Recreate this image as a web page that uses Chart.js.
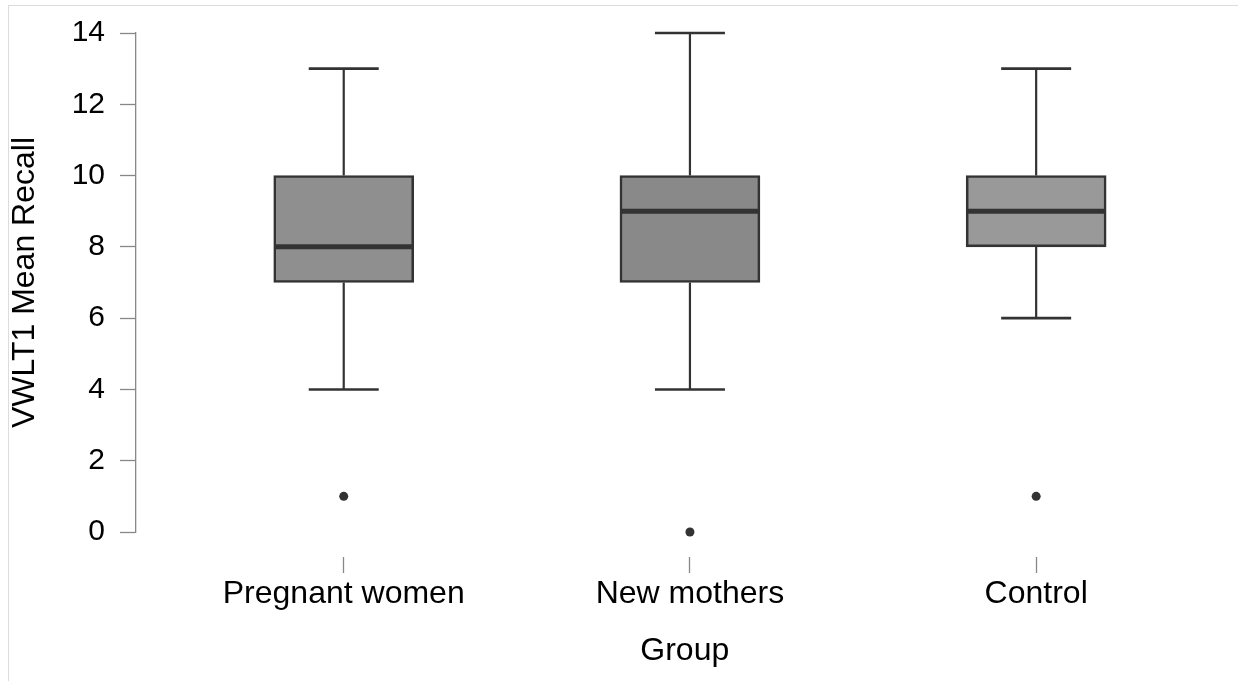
<!DOCTYPE html>
<html>
<head>
<meta charset="utf-8">
<script src="https://cdn.jsdelivr.net/npm/chart.js@4.4.1/dist/chart.umd.min.js"></script>
<style>
    body { margin: 0; background: #fff; }
    #wrap { position: relative; width: 1238px; height: 681px; }
    #frame { position: absolute; left: 8px; top: 5px; width: 1240px; height: 700px; border-top: 1px solid #dcdcdc; border-left: 1px solid #dcdcdc; }
</style>
</head>
<body>
<div id="wrap">
    <div id="frame"></div>
    <canvas id="boxChart" width="1238" height="681"></canvas>
</div>
<script>
// values
var groups = ['Pregnant women', 'New mothers', 'Control'];
var whiskerLow = [4, 4, 6];
var q1 = [7, 7, 8];
var medians = [8, 9, 9];
var q3 = [10, 10, 10];
var whiskerHigh = [13, 14, 13];
var outliers = [1, 0, 1];
var yTicks = [0, 2, 4, 6, 8, 10, 12, 14];
var boxColors = ['#8f8f8f', '#898989', '#999999'];

var fontFamily = "'Liberation Sans', Arial, Helvetica, sans-serif";
var ink = '#333333';

// whiskers and medians, placed through the chart scales
var boxExtras = {
    id: 'boxExtras',
    afterDatasetsDraw: function (chart) {
        var ctx = chart.ctx;
        var y = chart.scales.y;
        var bars = chart.getDatasetMeta(0).data;
        ctx.save();
        ctx.strokeStyle = ink;
        ctx.lineCap = 'butt';
        groups.forEach(function (g, i) {
            var bar = bars[i];
            var cx = bar.x;
            var half = bar.width / 2;
            ctx.lineWidth = 2.2;
            ctx.beginPath();
            ctx.moveTo(cx, y.getPixelForValue(whiskerLow[i]));
            ctx.lineTo(cx, y.getPixelForValue(q1[i]));
            ctx.moveTo(cx, y.getPixelForValue(q3[i]));
            ctx.lineTo(cx, y.getPixelForValue(whiskerHigh[i]));
            ctx.stroke();
            ctx.lineWidth = 2.6;
            ctx.beginPath();
            ctx.moveTo(cx - half / 2, y.getPixelForValue(whiskerLow[i]));
            ctx.lineTo(cx + half / 2, y.getPixelForValue(whiskerLow[i]));
            ctx.moveTo(cx - half / 2, y.getPixelForValue(whiskerHigh[i]));
            ctx.lineTo(cx + half / 2, y.getPixelForValue(whiskerHigh[i]));
            ctx.stroke();
            ctx.lineWidth = 5;
            ctx.beginPath();
            ctx.moveTo(cx - half + 1, y.getPixelForValue(medians[i]));
            ctx.lineTo(cx + half - 1, y.getPixelForValue(medians[i]));
            ctx.stroke();
        });
        ctx.restore();
    }
};

new Chart('boxChart', {
    type: 'bar',
    data: {
        datasets: [{
            label: 'IQR',
            data: groups.map(function (g, i) { return { x: i + 1, y: [q1[i], q3[i]] }; }),
            backgroundColor: boxColors,
            borderColor: ink,
            borderWidth: 2.6,
            borderSkipped: false,
            barThickness: 140,
            order: 2
        }, {
            type: 'scatter',
            label: 'Outliers',
            data: groups.map(function (g, i) { return { x: i + 1, y: outliers[i] }; }),
            pointRadius: 4.5,
            pointBackgroundColor: ink,
            pointBorderWidth: 0,
            clip: false,
            order: 1
        }]
    },
    options: {
        responsive: false,
        animation: false,
        layout: { padding: { top: 32, right: 0, left: 0, bottom: 0 } },
        plugins: {
            legend: { display: false },
            tooltip: { enabled: false }
        },
        scales: {
            x: {
                type: 'linear',
                min: 0.4,
                max: 3.57,
                offset: false,
                afterBuildTicks: function (scale) {
                    scale.ticks = groups.map(function (g, i) { return { value: i + 1 }; });
                },
                afterFit: function (scale) { scale.height = 149; },
                border: { display: false },
                grid: {
                    offset: false,
                    drawOnChartArea: false,
                    drawTicks: true,
                    tickLength: 41,
                    tickColor: '#888888',
                    tickWidth: 1.3,
                    tickBorderDash: [0, 25, 16, 200]
                },
                ticks: {
                    color: '#000',
                    padding: 2,
                    maxRotation: 0,
                    autoSkip: false,
                    font: { family: fontFamily, size: 32 },
                    callback: function (v) { return groups[v - 1]; }
                },
                title: {
                    display: true,
                    text: 'Group',
                    color: '#000',
                    padding: { top: 0, bottom: 11 },
                    font: { family: fontFamily, size: 32 }
                }
            },
            y: {
                min: 0,
                max: 14,
                afterBuildTicks: function (scale) {
                    scale.ticks = yTicks.map(function (v) { return { value: v }; });
                },
                afterFit: function (scale) { scale.width = 136; },
                border: { display: true, color: '#888888', width: 1.3 },
                grid: {
                    drawOnChartArea: false,
                    drawTicks: true,
                    tickLength: 16,
                    tickColor: '#888888',
                    tickWidth: 1.3
                },
                ticks: {
                    color: '#000',
                    padding: 15,
                    font: { family: fontFamily, size: 30 }
                },
                title: {
                    display: true,
                    text: 'VWLT1 Mean Recall',
                    color: '#000',
                    padding: { top: 6, bottom: 0 },
                    font: { family: fontFamily, size: 32 }
                }
            }
        }
    },
    plugins: [boxExtras]
});
</script>
</body>
</html>
